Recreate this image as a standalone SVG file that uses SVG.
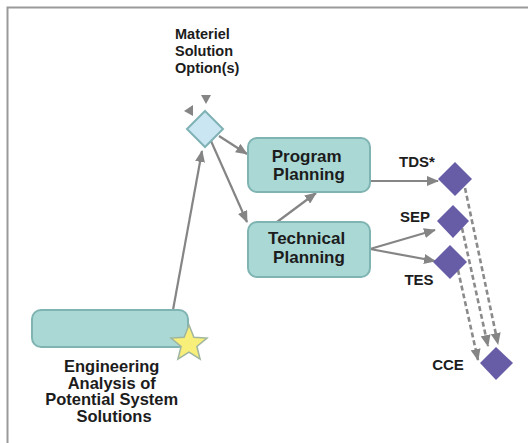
<svg xmlns="http://www.w3.org/2000/svg" width="528" height="443" viewBox="0 0 528 443">
  <style>
    .lbl { font-family: "Liberation Sans", Arial, sans-serif; font-weight: bold; fill: #1c1c1c; }
    .box { fill: #a9d8d5; stroke: #7fb4b2; stroke-width: 2; }
    .plan { fill: #675ca6; }
    .conn { stroke: #858585; stroke-width: 2.2; fill: none; }
    .dash { stroke: #8a8a8a; stroke-width: 2.6; fill: none; stroke-dasharray: 5 3; }
  </style>
  <defs>
    <marker id="arrow" viewBox="0 0 12 10" refX="11" refY="5" markerWidth="12" markerHeight="10" markerUnits="userSpaceOnUse" orient="auto">
      <path d="M0,0 L12,5 L0,10 Z" fill="#858585"/>
    </marker>
  </defs>

  <rect width="528" height="443" fill="#ffffff"/>
  <!-- frame -->
  <path d="M7.5,443 V7.5 H528" fill="none" stroke="#9a9a9a" stroke-width="2"/>

  <g id="connectors">
    <line class="conn" x1="173" y1="310" x2="202" y2="151" marker-end="url(#arrow)"/>
    <line class="conn" x1="219" y1="136" x2="247" y2="154" marker-end="url(#arrow)"/>
    <line class="conn" x1="211" y1="141" x2="247" y2="222" marker-end="url(#arrow)"/>
    <line class="conn" x1="277" y1="222" x2="316" y2="193" marker-end="url(#arrow)"/>
    <line class="conn" x1="370" y1="181" x2="438" y2="181" marker-end="url(#arrow)"/>
    <line class="conn" x1="370" y1="249" x2="435" y2="230" marker-end="url(#arrow)"/>
    <line class="conn" x1="370" y1="249" x2="435" y2="261" marker-end="url(#arrow)"/>
    <line class="dash" x1="465" y1="188" x2="498" y2="344" marker-end="url(#arrow)"/>
    <line class="dash" x1="462" y1="228" x2="488" y2="346" marker-end="url(#arrow)"/>
    <line class="dash" x1="458" y1="270" x2="478" y2="360" marker-end="url(#arrow)"/>
    <!-- stub arrowheads at the option node -->
    <polygon points="201,95 211,95 206,104" fill="#858585"/>
    <polygon points="184,111 193,105 193,116" fill="#858585"/>
  </g>

  <g id="materiel-solution">
    <polygon points="205,111 223,129 205,147 187,129" fill="#c9e6f2" stroke="#7fb2b5" stroke-width="2"/>
    <text class="lbl" font-size="14.5" x="175">
      <tspan x="175" y="39">Materiel</tspan>
      <tspan x="175" y="56">Solution</tspan>
      <tspan x="175" y="73">Option(s)</tspan>
    </text>
  </g>

  <g id="program-planning">
    <rect class="box" x="248" y="138" width="122" height="54" rx="9"/>
    <text class="lbl" font-size="17" text-anchor="middle">
      <tspan x="309" y="162">Program</tspan>
      <tspan x="309" y="180">Planning</tspan>
    </text>
  </g>

  <g id="technical-planning">
    <rect class="box" x="248" y="222" width="122" height="55" rx="9"/>
    <text class="lbl" font-size="17" text-anchor="middle">
      <tspan x="309" y="244">Technical</tspan>
      <tspan x="309" y="263">Planning</tspan>
    </text>
  </g>

  <g id="engineering-analysis">
    <rect class="box" x="32" y="310" width="156" height="37" rx="9"/>
    <polygon points="189,325 193.9,337.2 207,338.1 196.9,346.5 200.1,359.2 189,352.2 177.9,359.2 181.1,346.5 171,338.1 184.1,337.2" fill="#f7ef7a" stroke="#9fb59f" stroke-width="1.5"/>
    <text class="lbl" font-size="16.5" text-anchor="middle">
      <tspan x="114" y="372">Engineering</tspan>
      <tspan x="114" y="388.5">Analysis of</tspan>
      <tspan x="114" y="405">Potential System</tspan>
      <tspan x="114" y="421.5">Solutions</tspan>
    </text>
  </g>

  <g id="tds">
    <polygon class="plan" points="455,162 472,179 455,196 438,179"/>
    <text class="lbl" font-size="15" text-anchor="middle" x="417" y="167">TDS*</text>
  </g>

  <g id="sep">
    <polygon class="plan" points="453,205 469,221 453,238 437,221"/>
    <text class="lbl" font-size="15" text-anchor="middle" x="415" y="222">SEP</text>
  </g>

  <g id="tes">
    <polygon class="plan" points="450,245 467,262 450,279 433,262"/>
    <text class="lbl" font-size="15" text-anchor="middle" x="419" y="285">TES</text>
  </g>

  <g id="cce">
    <polygon class="plan" points="496,347 513,363 496,380 480,363"/>
    <text class="lbl" font-size="15" text-anchor="middle" x="448" y="370">CCE</text>
  </g>
</svg>
